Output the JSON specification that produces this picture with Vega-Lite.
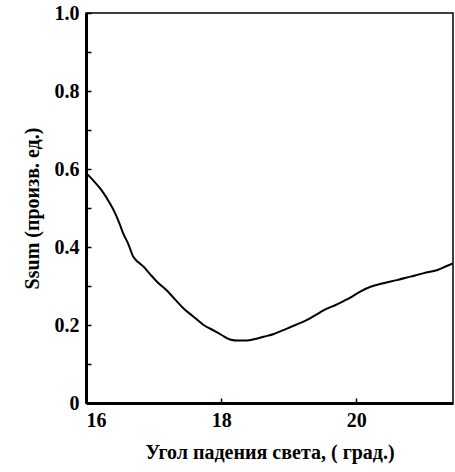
{
  "$schema": "https://vega.github.io/schema/vega-lite/v6.json",
  "width": 367,
  "height": 390,
  "autosize": {"type": "none"},
  "padding": {"left": 86, "top": 13, "right": 2, "bottom": 69},
  "background": "white",
  "config": {
    "view": {"stroke": "black", "strokeWidth": 1.5},
    "font": "Liberation Serif",
    "axis": {
      "domainColor": "black",
      "domainWidth": 3,
      "tickColor": "black",
      "tickWidth": 1.5,
      "grid": false,
      "labelFont": "Liberation Serif",
      "labelFontWeight": "bold",
      "labelFontSize": 20,
      "labelColor": "black",
      "titleFont": "Liberation Serif",
      "titleFontWeight": "bold",
      "titleFontSize": 20,
      "titleColor": "black"
    }
  },
  "data": {
    "values": [
      {"x": 16.0, "y": 0.59},
      {"x": 16.1, "y": 0.572},
      {"x": 16.2, "y": 0.552},
      {"x": 16.26, "y": 0.538},
      {"x": 16.35, "y": 0.513},
      {"x": 16.43, "y": 0.487},
      {"x": 16.5, "y": 0.458},
      {"x": 16.55, "y": 0.435},
      {"x": 16.62, "y": 0.41},
      {"x": 16.7, "y": 0.375},
      {"x": 16.78, "y": 0.36},
      {"x": 16.85, "y": 0.35},
      {"x": 16.95, "y": 0.33},
      {"x": 17.05, "y": 0.311},
      {"x": 17.2, "y": 0.288},
      {"x": 17.32, "y": 0.265},
      {"x": 17.44, "y": 0.243},
      {"x": 17.6, "y": 0.22},
      {"x": 17.74, "y": 0.2},
      {"x": 17.9, "y": 0.185},
      {"x": 18.0, "y": 0.175},
      {"x": 18.13, "y": 0.163},
      {"x": 18.25, "y": 0.16},
      {"x": 18.38, "y": 0.16},
      {"x": 18.5, "y": 0.164},
      {"x": 18.63, "y": 0.17},
      {"x": 18.78, "y": 0.177},
      {"x": 18.92, "y": 0.187},
      {"x": 19.1, "y": 0.2},
      {"x": 19.27, "y": 0.213},
      {"x": 19.4, "y": 0.226},
      {"x": 19.52, "y": 0.238},
      {"x": 19.7, "y": 0.252},
      {"x": 19.91, "y": 0.27},
      {"x": 20.05, "y": 0.285},
      {"x": 20.21, "y": 0.298},
      {"x": 20.4, "y": 0.307},
      {"x": 20.6, "y": 0.315},
      {"x": 20.8, "y": 0.324},
      {"x": 21.0, "y": 0.333},
      {"x": 21.2, "y": 0.341},
      {"x": 21.32, "y": 0.35},
      {"x": 21.43, "y": 0.358}
    ]
  },
  "mark": {"type": "line", "color": "black", "strokeWidth": 2, "interpolate": "monotone", "clip": true},
  "encoding": {
    "x": {
      "field": "x",
      "type": "quantitative",
      "scale": {"domain": [16, 21.43], "nice": false, "zero": false},
      "axis": {
        "title": "Угол падения света, ( град.)",
        "values": [16, 18, 20],
        "tickSize": -5,
        "labelPadding": 12,
        "titlePadding": 12
      }
    },
    "y": {
      "field": "y",
      "type": "quantitative",
      "scale": {"domain": [0, 1], "nice": false},
      "axis": {
        "title": "Ssum  (произв. ед.)",
        "values": [0, 0.1, 0.2, 0.3, 0.4, 0.5, 0.6, 0.7, 0.8, 0.9, 1.0],
        "labelExpr": "datum.value == 0 ? '0' : (round(datum.value * 10) % 2 == 0 ? format(datum.value, '.1f') : '')",
        "tickSize": -5,
        "labelPadding": 12,
        "titlePadding": 12
      }
    }
  }
}
